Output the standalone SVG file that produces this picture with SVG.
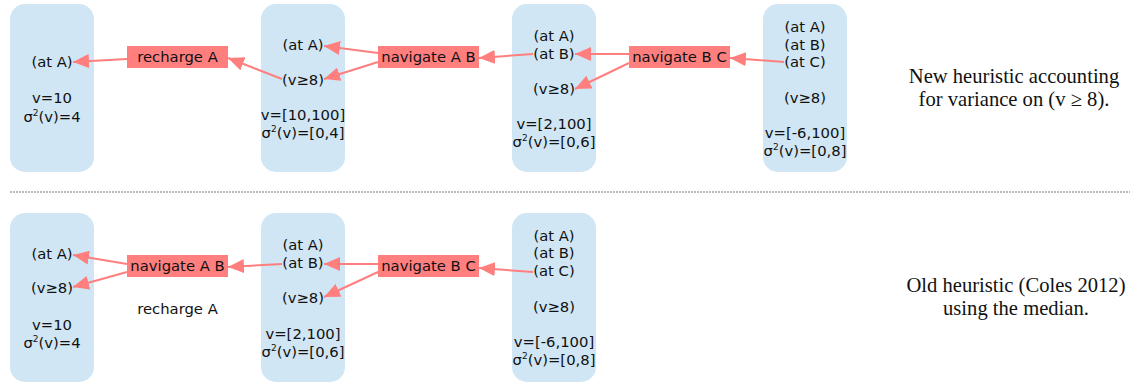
<svg xmlns="http://www.w3.org/2000/svg" width="1130" height="388" viewBox="0 0 1130 388">
<style>
.state{fill:#d0e6f4;}
.act{fill:#ff7f7f;}
.t{font-family:"DejaVu Sans",Verdana,sans-serif;font-size:14.8px;fill:#111;text-anchor:middle;}
.sup{font-size:9px;}
.cap{font-family:"Liberation Serif","Times New Roman",serif;font-size:20.6px;fill:#111;text-anchor:middle;}
.edge{stroke:#ff7f7f;stroke-width:2;fill:none;marker-end:url(#ah);}
.sep{stroke:#777;stroke-width:1;stroke-dasharray:2 1;}
</style>
<defs>
<marker id="ah" markerUnits="userSpaceOnUse" markerWidth="17" markerHeight="14" refX="16" refY="7" orient="auto">
<path d="M0,0 L16,7 L0,14 z" fill="#ff7f7f"/>
</marker>
</defs>

<!-- top row states -->
<g id="s1">
<rect class="state" x="10" y="4" width="84" height="168" rx="15"/>
<text class="t" x="52" y="67">(at A)</text>
<text class="t" x="52" y="103">v=10</text>
<text class="t" x="52" y="122">σ<tspan class="sup" dy="-6">2</tspan><tspan dy="6">(v)=4</tspan></text>
</g>
<g id="s2">
<rect class="state" x="261" y="4" width="84" height="168" rx="15"/>
<text class="t" x="303" y="50">(at A)</text>
<text class="t" x="303" y="85">(v≥8)</text>
<text class="t" x="303" y="120">v=[10,100]</text>
<text class="t" x="303" y="138">σ<tspan class="sup" dy="-6">2</tspan><tspan dy="6">(v)=[0,4]</tspan></text>
</g>
<g id="s3">
<rect class="state" x="512" y="4" width="84" height="168" rx="15"/>
<text class="t" x="554" y="41">(at A)</text>
<text class="t" x="554" y="59">(at B)</text>
<text class="t" x="554" y="94">(v≥8)</text>
<text class="t" x="554" y="129">v=[2,100]</text>
<text class="t" x="554" y="147">σ<tspan class="sup" dy="-6">2</tspan><tspan dy="6">(v)=[0,6]</tspan></text>
</g>
<g id="s4">
<rect class="state" x="763" y="4" width="84" height="168" rx="15"/>
<text class="t" x="805" y="32">(at A)</text>
<text class="t" x="805" y="50">(at B)</text>
<text class="t" x="805" y="67">(at C)</text>
<text class="t" x="805" y="103">(v≥8)</text>
<text class="t" x="805" y="138">v=[-6,100]</text>
<text class="t" x="805" y="156">σ<tspan class="sup" dy="-6">2</tspan><tspan dy="6">(v)=[0,8]</tspan></text>
</g>

<!-- top row actions -->
<g id="a1">
<rect class="act" x="127" y="46" width="101" height="22"/>
<text class="t" x="177.5" y="62">recharge A</text>
</g>
<g id="a2">
<rect class="act" x="378" y="46" width="101" height="22"/>
<text class="t" x="428.5" y="62">navigate A B</text>
</g>
<g id="a3">
<rect class="act" x="629" y="46" width="101" height="22"/>
<text class="t" x="679.5" y="62">navigate B C</text>
</g>

<!-- bottom row states -->
<g id="s5">
<rect class="state" x="10" y="213" width="84" height="169" rx="15"/>
<text class="t" x="52" y="259">(at A)</text>
<text class="t" x="52" y="293">(v≥8)</text>
<text class="t" x="52" y="330">v=10</text>
<text class="t" x="52" y="348">σ<tspan class="sup" dy="-6">2</tspan><tspan dy="6">(v)=4</tspan></text>
</g>
<g id="s6">
<rect class="state" x="261" y="213" width="84" height="169" rx="15"/>
<text class="t" x="303" y="250">(at A)</text>
<text class="t" x="303" y="268">(at B)</text>
<text class="t" x="303" y="303">(v≥8)</text>
<text class="t" x="303" y="339">v=[2,100]</text>
<text class="t" x="303" y="357">σ<tspan class="sup" dy="-6">2</tspan><tspan dy="6">(v)=[0,6]</tspan></text>
</g>
<g id="s7">
<rect class="state" x="512" y="213" width="84" height="169" rx="15"/>
<text class="t" x="554" y="241">(at A)</text>
<text class="t" x="554" y="258">(at B)</text>
<text class="t" x="554" y="276">(at C)</text>
<text class="t" x="554" y="312">(v≥8)</text>
<text class="t" x="554" y="347">v=[-6,100]</text>
<text class="t" x="554" y="365">σ<tspan class="sup" dy="-6">2</tspan><tspan dy="6">(v)=[0,8]</tspan></text>
</g>

<!-- bottom row actions -->
<g id="a4">
<rect class="act" x="127" y="255" width="101" height="22"/>
<text class="t" x="177.5" y="271">navigate A B</text>
</g>
<g id="a5">
<rect class="act" x="378" y="255" width="101" height="22"/>
<text class="t" x="428.5" y="271">navigate B C</text>
</g>
<g id="a6">
<text class="t" x="177.5" y="314">recharge A</text>
</g>

<!-- connectors -->
<g id="connectors">
<line class="edge" x1="127" y1="59" x2="73" y2="62"/>
<line class="edge" x1="282" y1="79" x2="228" y2="58"/>
<line class="edge" x1="378" y1="53" x2="324" y2="46"/>
<line class="edge" x1="378" y1="62" x2="324" y2="79"/>
<line class="edge" x1="533" y1="54" x2="479" y2="58"/>
<line class="edge" x1="629" y1="54" x2="575" y2="54"/>
<line class="edge" x1="629" y1="63" x2="575" y2="89"/>
<line class="edge" x1="784" y1="62" x2="730" y2="58"/>

<line class="edge" x1="127" y1="264" x2="73" y2="255"/>
<line class="edge" x1="127" y1="272" x2="73" y2="287"/>
<line class="edge" x1="282" y1="264" x2="228" y2="267"/>
<line class="edge" x1="378" y1="264" x2="324" y2="264"/>
<line class="edge" x1="378" y1="272" x2="324" y2="297"/>
<line class="edge" x1="533" y1="272" x2="479" y2="268"/>
</g>

<line class="sep" x1="10" y1="192" x2="1130" y2="192"/>

<text class="cap" x="1014" y="83">New heuristic accounting</text>
<text class="cap" x="1014" y="106">for variance on (v ≥ 8).</text>
<text class="cap" x="1016" y="292">Old heuristic (Coles 2012)</text>
<text class="cap" x="1016" y="315">using the median.</text>
</svg>
